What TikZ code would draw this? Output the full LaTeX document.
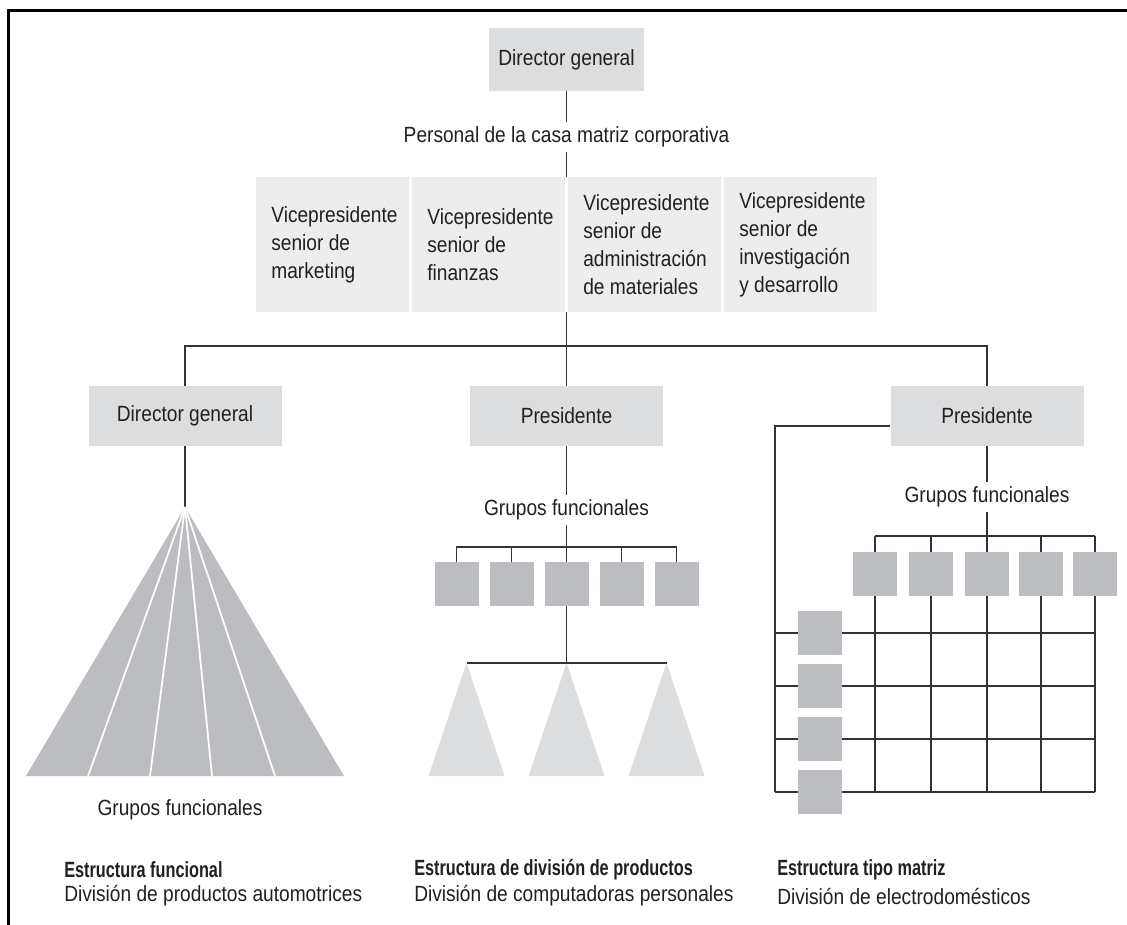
\documentclass[tikz,border=0pt]{standalone}
\usepackage{fontspec}
\setmainfont{Liberation Sans}[FakeStretch=0.87]
\newfontfamily\condfont{Liberation Sans}[FakeStretch=0.74]
\definecolor{boxgray}{HTML}{DCDDDF}
\definecolor{vpgray}{HTML}{EDEDED}
\definecolor{midgray}{HTML}{BCBDC0}
\definecolor{linecol}{HTML}{333333}
\definecolor{txt}{HTML}{231F20}
\begin{document}
\begin{tikzpicture}[x=0.75pt,y=-0.75pt,
  font=\fontsize{16.5}{21}\selectfont, text=txt,
  topbox/.style={fill=boxgray, minimum width=116.25pt, minimum height=47.25pt, inner sep=0},
  lbox/.style={fill=boxgray, minimum width=144.75pt, minimum height=45pt, inner sep=0},
  vpbox/.style={fill=vpgray, minimum width=114.75pt, minimum height=101.25pt, inner sep=0},
  vptext/.style={align=left, anchor=west, inner sep=0},
  sq/.style={fill=midgray, minimum size=33pt, inner sep=0},
  conn/.style={draw=linecol, line width=1.1pt},
  lbl/.style={inner xsep=0, inner ysep=3pt},
  caption/.style={anchor=west, inner sep=0}]
\useasboundingbox (0,0) rectangle (1127,924);
% frame
\draw[line width=2.25pt, black] (8.5,935) -- (8.5,10.5) -- (1140,10.5);

% ---------- matrix grid (behind squares)
\foreach \gx in {875,931,987,1041,1095}
  \draw[conn] (\gx,536) -- (\gx,792);
\draw[conn] (875,536) -- (1095,536);
\foreach \gy in {633,686,739,792}
  \draw[conn] (775,\gy) -- (1095,\gy);

% ---------- top level
\node[topbox] (dg) at (566.5,59.5) {Director general};
\node[lbl] (pers) at (566.5,137) {Personal de la casa matriz corporativa};
\draw[conn] (dg.south) -- (pers.north);

\node[vpbox] (vp1) at (332.5,244.5) {};
\node[vpbox] (vp2) at (488.5,244.5) {};
\node[vpbox] (vp3) at (644.5,244.5) {};
\node[vpbox] (vp4) at (800.5,244.5) {};
\node[vptext] (vt1) at ([xshift=11.5pt]vp1.west) {Vicepresidente\\senior de\\marketing};
\node[vptext] (vt2) at ([xshift=11.5pt]vp2.west) {Vicepresidente\\senior de\\finanzas};
\node[vptext] (vt3) at ([xshift=11.5pt]vp3.west) {Vicepresidente\\senior de\\administración\\de materiales};
\node[vptext] (vt4) at ([xshift=11.5pt]vp4.west) {Vicepresidente\\senior de\\investigación\\y desarrollo};
\draw[conn] (pers.south) -- (pers.south |- vp1.north);

% ---------- second level
\node[lbox] (ldir) at (185,416) {Director general};
\node[lbox] (mpres) at (566.5,416) {Presidente};
\node[lbox] (rpres) at (987,416) {Presidente};
\coordinate (busc) at (566.5,346);
\draw[conn] (pers.south |- vp1.south) -- (busc);
\draw[conn] (ldir.north) |- (busc) -| (rpres.north);
\draw[conn] (busc) -- (mpres.north);

% ---------- functional structure (left)
\coordinate (apex) at (185,507);
\draw[conn] (ldir.south) -- (apex);
\fill[midgray] (apex) -- (26,776) -- (344,776) -- cycle;
\foreach \bx in {88,150,212,275}
  \draw[white, line width=1.3pt] (apex) -- (\bx,776);
\node[lbl] (lgf) at (180,810) {Grupos funcionales};

% ---------- product division structure (middle)
\node[lbl] (mgf) at (566.5,510) {Grupos funcionales};
\draw[conn] (mpres.south) -- (mgf.north);
\foreach \i/\mx in {1/456.5,2/511.5,3/566.5,4/621.5,5/676.5}
  \node[sq] (m\i) at (\mx,584) {};
\coordinate (mbus) at (566.5,547);
\draw[conn] (mgf.south) -- (mbus);
\draw[conn] (m1.north) |- (mbus) -| (m5.north);
\draw[conn] (m2.north) -- (m2.north |- mbus);
\draw[conn] (m3.north) -- (mbus);
\draw[conn] (m4.north) -- (m4.north |- mbus);
\coordinate (tbus) at (566.5,663);
\draw[conn] (m3.south) -- (tbus);
\foreach \tx in {466.5,566.5,666.5}
  \fill[boxgray] (\tx,663) -- (\tx-38,776) -- (\tx+38,776) -- cycle;
\draw[conn] (466.5,663) -- (666.5,663);

% ---------- matrix structure (right)
\node[lbl] (rgf) at (987,497) {Grupos funcionales};
\draw[conn] (rpres.south) -- (rgf.north);
\coordinate (rbus) at (987,536);
\draw[conn] (rgf.south) -- (rbus);
\coordinate (rcorner) at (775,426);
\draw[conn] (rcorner -| rpres.west) -- (rcorner) -- (775,792);
\foreach \i/\rx in {1/875,2/931,3/987,4/1041,5/1095}
  \node[sq] (r\i) at (\rx,574) {};
\foreach \i/\ry in {1/633,2/686,3/739,4/792}
  \node[sq] (c\i) at (820,\ry) {};

% ---------- captions
\node[caption] (cap1) at (64,870) {\condfont\bfseries Estructura funcional};
\node[caption] (sub1) at (64,896) {División de productos automotrices};
\node[caption] (cap2) at (414,870) {\condfont\bfseries Estructura de división de productos};
\node[caption] (sub2) at (414,896) {División de computadoras personales};
\node[caption] (cap3) at (777,870) {\condfont\bfseries Estructura tipo matriz};
\node[caption] (sub3) at (777,896) {División de electrodomésticos};
\end{tikzpicture}
\end{document}
